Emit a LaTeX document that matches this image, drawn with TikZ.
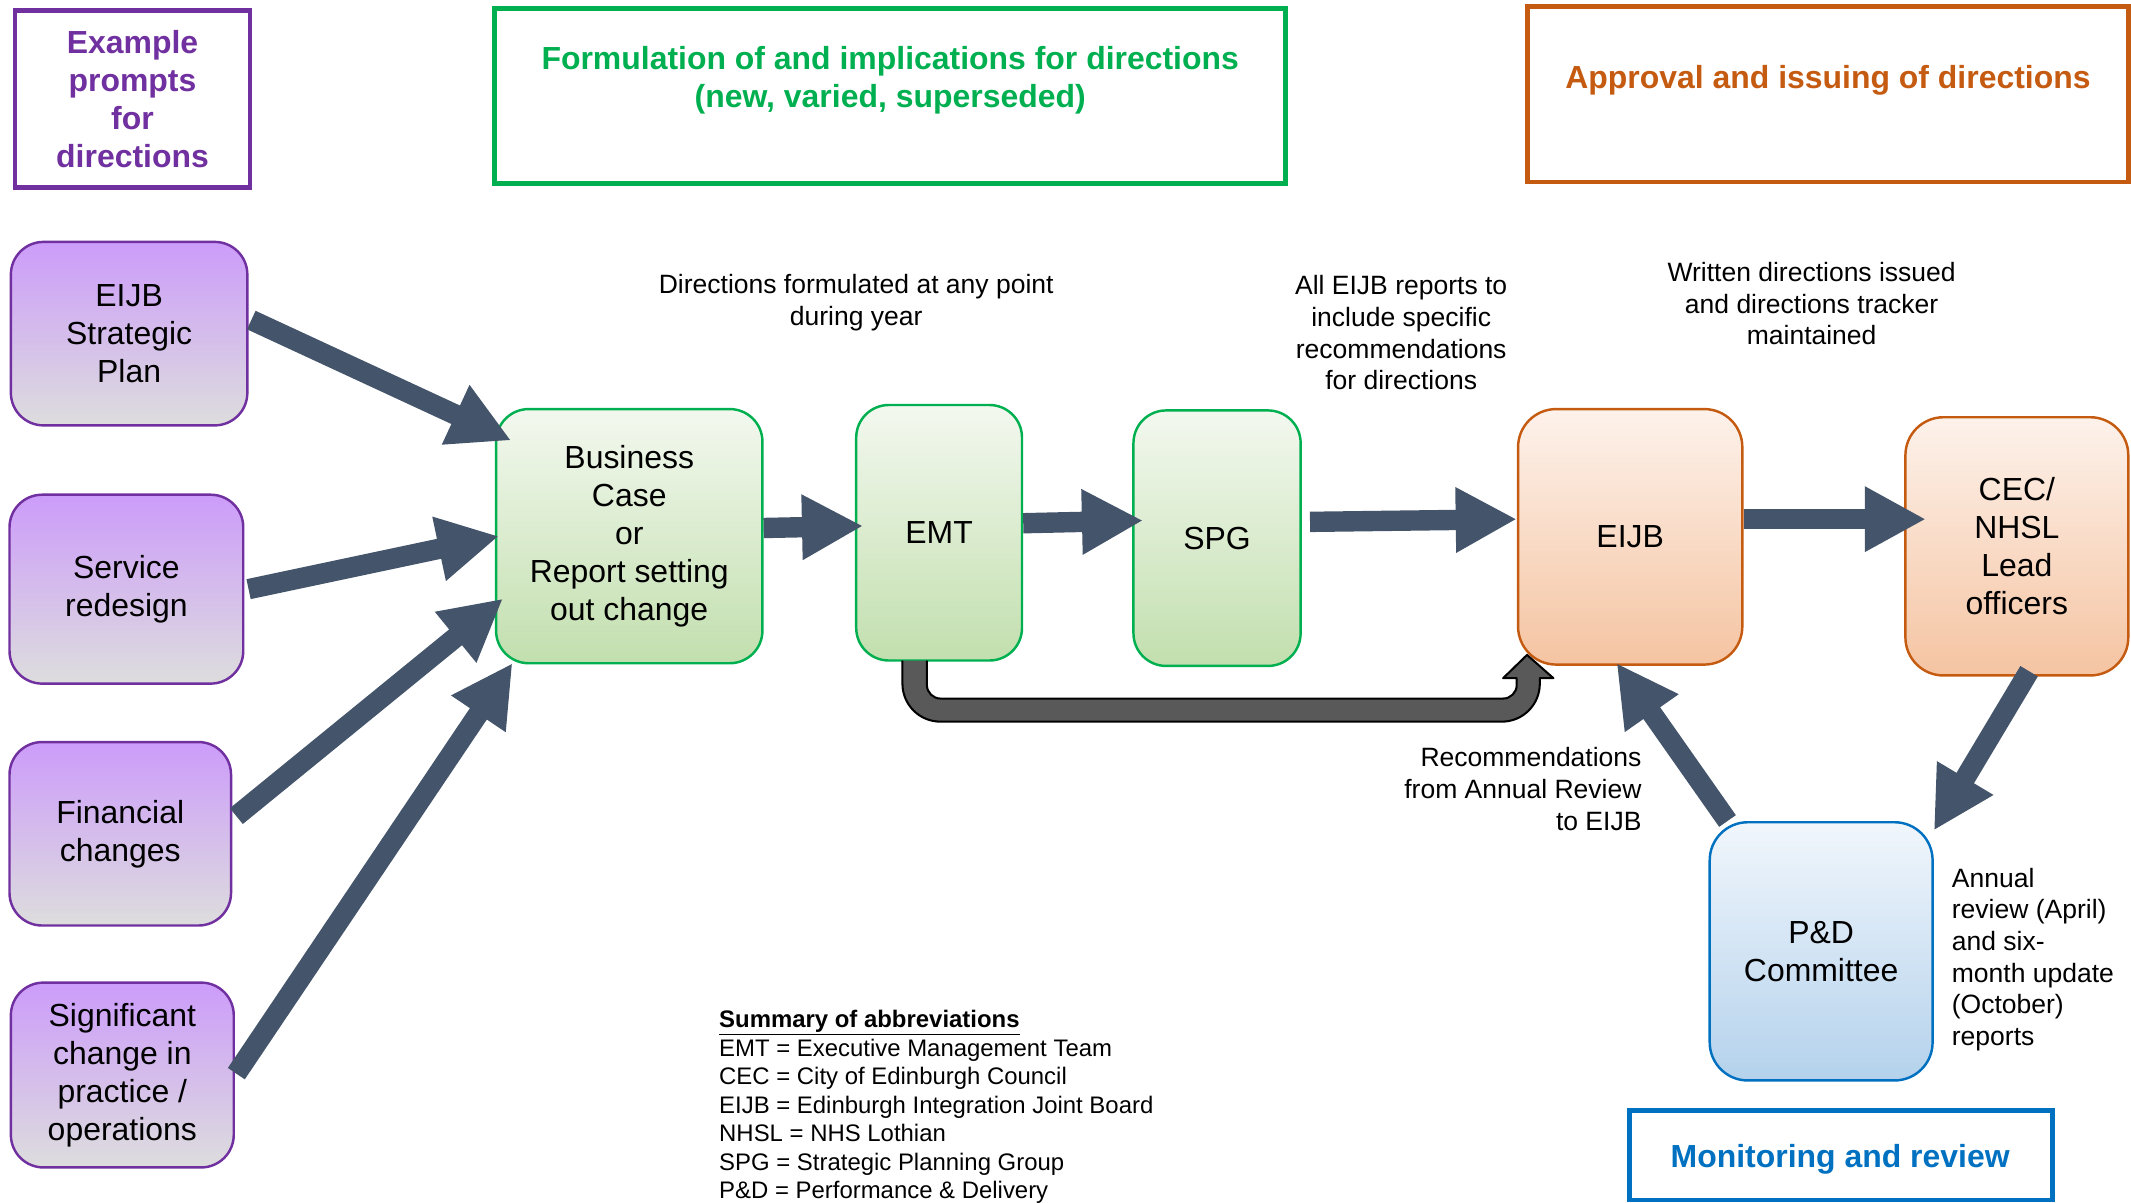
\documentclass[tikz,border=0pt]{standalone}
\usepackage{fontspec}
\setmainfont{Liberation Sans}
\usetikzlibrary{arrows.meta,calc}
\definecolor{purpB}{RGB}{112,48,160}
\definecolor{greenB}{RGB}{0,176,80}
\definecolor{orangeB}{RGB}{197,90,17}
\definecolor{blueB}{RGB}{0,112,192}
\definecolor{arrowC}{RGB}{68,84,106}
\definecolor{bentC}{RGB}{89,89,89}
\definecolor{purpT}{RGB}{204,156,250}
\definecolor{purpM}{RGB}{212,190,232}
\definecolor{purpE}{RGB}{221,221,221}
\definecolor{greenT}{RGB}{243,248,239}
\definecolor{greenM}{RGB}{216,234,205}
\definecolor{greenE}{RGB}{194,223,174}
\definecolor{orT}{RGB}{253,242,235}
\definecolor{orM}{RGB}{248,216,192}
\definecolor{orE}{RGB}{245,196,162}
\definecolor{blT}{RGB}{241,246,252}
\definecolor{blM}{RGB}{209,226,243}
\definecolor{blE}{RGB}{180,210,236}
\begin{document}
\begin{tikzpicture}[x=1pt,y=-1pt,
  box/.style={rounded corners=24pt, line width=1.8pt, align=center, inner sep=0pt,
    font=\fontsize{23.5}{28}\selectfont},
  pbox/.style={box, draw=purpB, top color=purpT, middle color=purpM, bottom color=purpE},
  gbox/.style={box, draw=greenB, top color=greenT, middle color=greenM, bottom color=greenE},
  obox/.style={box, draw=orangeB, top color=orT, middle color=orM, bottom color=orE},
  bbox/.style={box, draw=blueB, top color=blT, middle color=blM, bottom color=blE},
  hdr/.style={draw=#1, line width=3.5pt, text=#1, align=center, inner sep=0pt,
    font=\fontsize{23.5}{28}\selectfont\bfseries},
  htext/.style={text=#1, align=center, inner sep=0pt, font=\fontsize{23.5}{28}\selectfont\bfseries},
  lbl/.style={align=center, inner sep=0pt, font=\fontsize{19.5}{23.3}\selectfont},
  bigarrow/.style={draw=arrowC, line width=15pt, -{Triangle[length=45pt,width=45pt]}},
  bent/.style={fill=bentC, draw=black, line width=1.5pt, line join=round}
]
\useasboundingbox (0,0) rectangle (1568,885);
\clip (0,0) rectangle (1568,885);

% header boxes
\node[hdr=purpB, minimum width=173, minimum height=130] (ex) at (97.5,73) {Example\\prompts\\for\\directions};
\node[hdr=greenB, minimum width=582, minimum height=129] (form) at (655,70.5) {};
\node[htext=greenB] (formT) at (655,59) {Formulation of and implications for directions\\(new, varied, superseded)};
\node[hdr=orangeB, minimum width=442, minimum height=129] (appr) at (1345,69.5) {};
\node[htext=orangeB] (apprT) at (1345,59) {Approval and issuing of directions};
\node[hdr=blueB, minimum width=311, minimum height=66] (mon) at (1354.5,850) {};
\node[htext=blueB] (monT) at (1354,853) {Monitoring and review};

% prompt boxes
\node[pbox, minimum width=174, minimum height=135] (esp) at (95,245.5) {EIJB\\Strategic\\Plan};
\node[pbox, minimum width=172, minimum height=139] (sr) at (93,433.5) {Service\\redesign};
\node[pbox, minimum width=163, minimum height=135] (fc) at (88.5,613.5) {Financial\\changes};
\node[pbox, minimum width=164, minimum height=136] (sc) at (90,791) {Significant\\change in\\practice /\\operations};

% process boxes
\node[gbox, minimum width=196, minimum height=187] (bc) at (463,394.5) {Business\\Case\\or\\Report setting\\out change};
\node[gbox, minimum width=122, minimum height=188] (emt) at (691,392) {EMT};
\node[gbox, minimum width=123, minimum height=188] (spg) at (895.5,396) {SPG};
\node[obox, minimum width=165, minimum height=188, rounded corners=28pt] (eijb) at (1199.5,395) {EIJB};
\node[obox, minimum width=164, minimum height=190, rounded corners=28pt] (cec) at (1484,402) {CEC/\\NHSL\\Lead\\officers};
\node[bbox, minimum width=164, minimum height=190, rounded corners=28pt] (pd) at (1340,700) {P\&D\\Committee};

% labels
\node[lbl] (lab1) at (630,222.5) {Directions formulated at any point\\during year};
\node[lbl] (lab2) at (1031,245) {All EIJB reports to\\include specific\\recommendations\\for directions};
\node[lbl] (lab3) at (1333,223.5) {Written directions issued\\and directions tracker\\maintained};
\node[lbl, align=right, anchor=east] (lab4) at (1208,580.5) {Recommendations\\from Annual Review\\to EIJB};
\node[lbl, align=left, anchor=west] (lab5) at (1436,706) {Annual\\review (April)\\and six-\\month update\\(October)\\reports};
\node[align=left, anchor=west, inner sep=0pt, font=\fontsize{17.6}{21}\selectfont] (summ) at (529,814.5)
  {\underline{\textbf{Summary of abbreviations}}\\
   EMT = Executive Management Team\\
   CEC = City of Edinburgh Council\\
   EIJB = Edinburgh Integration Joint Board\\
   NHSL = NHS Lothian\\
   SPG = Strategic Planning Group\\
   P\&D = Performance \& Delivery};

% arrows
\draw[bigarrow] ($(esp.east)+(2,-10)$) -- ($(bc.north west)+(12,24)$);
\draw[bigarrow] ($(sr.east)+(3,0)$) -- ($(bc.west)+(3,0)$);
\draw[bigarrow] ($(fc.east)+(3,-13)$) -- ($(bc.west)+(6,46)$);
\draw[bigarrow] ($(sc.east)+(1,-1)$) -- ($(bc.south west)+(13,-1)$);
\draw[bigarrow] ($(bc.east)+(0,-6)$) -- ($(emt.west)+(6,-5)$);
\draw[bigarrow] ($(emt.east)+(0,-7)$) -- ($(spg.west)+(8,-13)$);
\draw[bigarrow] ($(spg.east)+(6,-12)$) -- ($(eijb.west)+(0,-13)$);
\draw[bigarrow] ($(eijb.east)+(0,-13)$) -- ($(cec.west)+(16,-20)$);
\draw[bigarrow] ($(cec.south)+(9,-4)$) -- ($(pd.north east)+(0,7)$);
\draw[bigarrow] ($(pd.north west)+(14,0)$) -- ($(eijb.south)+(-10,-2)$);

% bent arrow EMT -> EIJB
\coordinate (btip) at ($(eijb.south west)+(7.5,-8)$);
\draw[bent] (664,486) -- (664,503) .. controls (664,518.5) and (676.5,531) .. (692,531)
  -- (1105,531) .. controls (1120.5,531) and (1133,518.5) .. (1133,503)
  -- (1133,499) -- (1143,499) -- (btip) -- (1106,499) -- (1116,499)
  -- (1116,504) .. controls (1116,509.5) and (1111.5,514) .. (1106,514)
  -- (692,514) .. controls (686.5,514) and (682,509.5) .. (682,504)
  -- (682,486);
\end{tikzpicture}
\end{document}
